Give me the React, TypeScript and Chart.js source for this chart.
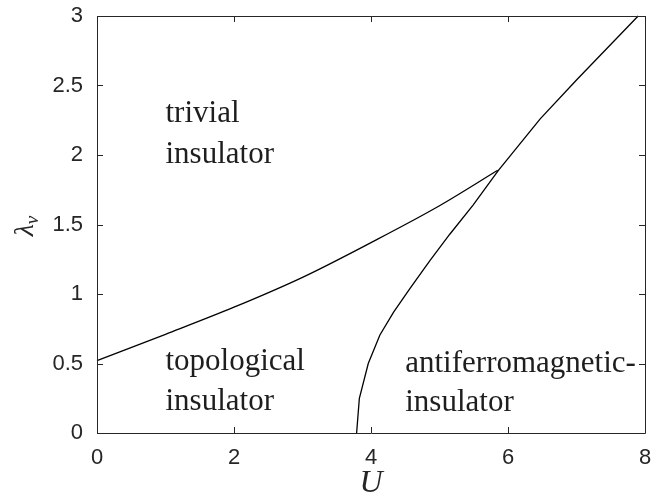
import React, { useEffect, useRef } from "react";
import { Chart, registerables } from "chart.js";

Chart.register(...registerables);

// Phase boundary: topological insulator / trivial insulator
const topoU = [0, 1, 2, 3, 4, 5, 5.85];
const topoLambda = [0.52, 0.71, 0.905, 1.12, 1.37, 1.635, 1.89];

// Phase boundary: antiferromagnetic insulator
const afmU = [3.79, 3.83, 3.96, 4.13, 4.33, 4.57, 4.86, 5.15, 5.49, 5.86, 6.47, 7.0, 7.9];
const afmLambda = [0, 0.25, 0.5, 0.705, 0.87, 1.04, 1.24, 1.43, 1.64, 1.89, 2.26, 2.54, 3.0];

const xTicks = [0, 2, 4, 6, 8];
const yTicks = [0, 0.5, 1, 1.5, 2, 2.5, 3];

// Region labels: [text, U, lambda (baseline)]
const regionLabels: [string, number, number][] = [
  ["trivial", 1.0, 2.24],
  ["insulator", 1.0, 1.94],
  ["topological", 1.0, 0.45],
  ["insulator", 1.0, 0.165],
  ["antiferromagnetic-", 4.5, 0.44],
  ["insulator", 4.5, 0.155],
];

const AXIS_COLOR = "#262626";

const boxPlugin = {
  id: "boxPlugin",
  afterDatasetsDraw(chart: any) {
    const { ctx, chartArea, scales } = chart;
    const { left, right, top, bottom } = chartArea;
    const xs = scales.x;
    const ys = scales.y;
    ctx.save();
    ctx.strokeStyle = AXIS_COLOR;
    ctx.lineWidth = 1;
    ctx.beginPath();
    ctx.rect(left + 0.5, top + 0.5, right - left, bottom - top);
    ctx.stroke();
    const tl = 6;
    ctx.beginPath();
    xTicks.forEach((v) => {
      const px = Math.round(xs.getPixelForValue(v)) + 0.5;
      ctx.moveTo(px, bottom);
      ctx.lineTo(px, bottom - tl);
      ctx.moveTo(px, top);
      ctx.lineTo(px, top + tl);
    });
    yTicks.forEach((v) => {
      const py = Math.round(ys.getPixelForValue(v)) + 0.5;
      ctx.moveTo(left, py);
      ctx.lineTo(left + tl, py);
      ctx.moveTo(right, py);
      ctx.lineTo(right - tl, py);
    });
    ctx.stroke();

    // Region labels
    ctx.fillStyle = "#1e1e1e";
    ctx.font = "31px 'Liberation Serif', serif";
    ctx.textAlign = "left";
    ctx.textBaseline = "alphabetic";
    regionLabels.forEach(([t, u, l]) => {
      ctx.fillText(t, xs.getPixelForValue(u), ys.getPixelForValue(l));
    });

    // X axis title
    ctx.fillStyle = AXIS_COLOR;
    ctx.font = "italic 32px 'Liberation Serif', serif";
    ctx.textAlign = "center";
    ctx.fillText("U", (left + right) / 2, 492);

    // Y axis title (rotated)
    ctx.save();
    ctx.translate(33, 226);
    ctx.rotate(-Math.PI / 2);
    ctx.textAlign = "left";
    const f1 = "italic 28px 'Liberation Serif', serif";
    const f2 = "italic 19px 'Liberation Serif', serif";
    ctx.font = f1;
    const w1 = ctx.measureText("λ").width;
    ctx.font = f2;
    const w2 = ctx.measureText("ν").width;
    const start = -(w1 + w2) / 2;
    ctx.font = f1;
    ctx.fillText("λ", start, 0);
    ctx.font = f2;
    ctx.fillText("ν", start + w1, 5);
    ctx.restore();

    ctx.restore();
  },
};

export default function App() {
  const ref = useRef<HTMLCanvasElement | null>(null);
  useEffect(() => {
    document.body.style.margin = "0";
    const canvas = ref.current;
    if (!canvas) return;
    const chart = new Chart(canvas, {
      type: "scatter",
      data: {
        datasets: [
          {
            data: topoU.map((u, i) => ({ x: u, y: topoLambda[i] })),
            showLine: true,
            borderColor: "#000",
            borderWidth: 1.3,
            pointRadius: 0,
            cubicInterpolationMode: "monotone",
            clip: false as any,
          },
          {
            data: afmU.map((u, i) => ({ x: u, y: afmLambda[i] })),
            showLine: true,
            borderColor: "#000",
            borderWidth: 1.3,
            pointRadius: 0,
            tension: 0,
            clip: false as any,
          },
        ],
      },
      options: {
        animation: false,
        responsive: false,
        devicePixelRatio: 1,
        layout: { padding: { left: 0, top: 16, right: 18, bottom: 0 } },
        plugins: {
          legend: { display: false },
          tooltip: { enabled: false },
        },
        scales: {
          x: {
            type: "linear",
            min: 0,
            max: 8,
            afterFit(scale: any) {
              scale.height = 62;
              scale.paddingLeft = 0;
              scale.paddingRight = 0;
            },
            afterBuildTicks(scale: any) {
              scale.ticks = xTicks.map((v) => ({ value: v }));
            },
            grid: { display: false, drawTicks: false },
            border: { display: false },
            ticks: {
              padding: 12,
              color: AXIS_COLOR,
              font: { family: "'Liberation Sans', Arial, sans-serif", size: 22 },
              callback: (v: any) => String(v),
            },
          },
          y: {
            type: "linear",
            min: 0,
            max: 3,
            afterFit(scale: any) {
              scale.width = 97;
              scale.paddingTop = 0;
              scale.paddingBottom = 0;
            },
            afterBuildTicks(scale: any) {
              scale.ticks = yTicks.map((v) => ({ value: v }));
            },
            grid: { display: false, drawTicks: false },
            border: { display: false },
            ticks: {
              padding: 14,
              color: AXIS_COLOR,
              font: { family: "'Liberation Sans', Arial, sans-serif", size: 22 },
              callback: (v: any) => String(v),
            },
          },
        },
      },
      plugins: [boxPlugin],
    });
    return () => chart.destroy();
  }, []);
  return (
    <div style={{ position: "fixed", left: 0, top: 0, width: 663, height: 495, background: "#fff" }}>
      <canvas ref={ref} width={663} height={495} />
    </div>
  );
}
